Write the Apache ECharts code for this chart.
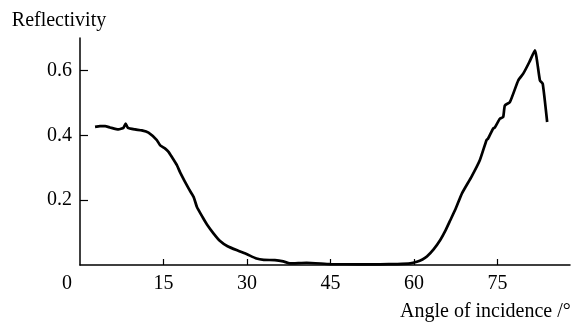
<!DOCTYPE html>
<html>
<head>
<meta charset="utf-8">
<script src="https://cdn.jsdelivr.net/npm/echarts@6/dist/echarts.min.js"></script>
<style>
  html, body { margin: 0; padding: 0; background: #fff; }
  #chart { width: 571px; height: 322px; }
</style>
</head>
<body>
<div id="chart"></div>
<script>
const angles = [
  2.7, 3.6, 4.5, 5.4, 6.9, 7.8, 8.2, 8.6, 9.9, 11.1, 12.3, 13.8, 14.4, 15.3, 15.9, 16.5,
  17.4, 18.0, 19.5, 20.4, 21.0, 22.0, 22.8, 24.0, 25.1, 26.5, 28.4, 30.0, 31.7, 33.0,
  35.0, 36.5, 37.7, 40.7, 44.9, 50.0, 53.9, 57.0, 59.3, 60.5, 61.5, 62.3, 63.5, 64.7,
  65.6, 66.5, 67.5, 68.6, 70.3, 71.8, 73.0, 73.3, 74.2, 74.5, 75.4, 76.0, 76.3, 77.2,
  78.7, 79.6, 80.7, 81.7, 82.6, 83.1, 83.9
];
const reflectivity = [
  0.426, 0.428, 0.428, 0.424, 0.418, 0.423, 0.436, 0.423, 0.418, 0.415, 0.408, 0.385, 0.369, 0.359, 0.349, 0.333,
  0.308, 0.285, 0.236, 0.21, 0.179, 0.148, 0.125, 0.097, 0.075, 0.058, 0.044, 0.033, 0.02, 0.016,
  0.015, 0.011, 0.005, 0.007, 0.003, 0.002, 0.002, 0.003, 0.005, 0.01, 0.017, 0.026, 0.048, 0.077,
  0.105, 0.138, 0.175, 0.221, 0.272, 0.323, 0.385, 0.39, 0.421, 0.424, 0.451, 0.456, 0.492, 0.502,
  0.569, 0.59, 0.626, 0.662, 0.569, 0.559, 0.441
];
const xTicks = [15, 30, 45, 60, 75];
const xLabels = [0, 15, 30, 45, 60, 75];
const yTicks = [0.2, 0.4, 0.6];

const font = "Liberation Serif";
const chart = echarts.init(document.getElementById("chart"));

chart.setOption({
  animation: false,
  grid: { left: 80, right: 1, top: 38, bottom: 57, outerBoundsMode: "none" },
  xAxis: {
    type: "value",
    min: 0,
    max: 88,
    name: "Angle of incidence /°",
    nameLocation: "middle",
    nameGap: 37,
    nameTextStyle: { fontFamily: font, fontSize: 20, color: "#000", align: "left", padding: [0, 0, 0, 75] },
    axisLine: { lineStyle: { color: "#000", width: 1.5 } },
    axisTick: { inside: true, length: 6, customValues: xTicks, lineStyle: { color: "#000", width: 1.2 } },
    axisLabel: {
      customValues: xLabels,
      margin: 9,
      fontFamily: font,
      fontSize: 20,
      color: "#000",
      formatter: (v) => (v === 0 ? "{z|0}" : String(v)),
      rich: { z: { fontFamily: font, fontSize: 20, color: "#000", padding: [0, 26, 0, 0] } }
    },
    splitLine: { show: false }
  },
  yAxis: {
    type: "value",
    min: 0,
    max: 0.7,
    name: "Reflectivity",
    nameLocation: "end",
    nameGap: 7,
    nameTextStyle: { fontFamily: font, fontSize: 20, color: "#000", padding: [0, 42, 0, 0] },
    axisLine: { show: true, lineStyle: { color: "#000", width: 1.5 } },
    axisTick: { show: true, inside: true, length: 8, customValues: yTicks, lineStyle: { color: "#000", width: 1.2 } },
    axisLabel: {
      customValues: yTicks,
      margin: 8,
      fontFamily: font,
      fontSize: 20,
      color: "#000",
      formatter: (v) => v.toFixed(1)
    },
    splitLine: { show: false }
  },
  series: [
    {
      type: "line",
      data: angles.map((a, i) => [a, reflectivity[i]]),
      showSymbol: false,
      smooth: 0.15,
      lineStyle: { color: "#000", width: 2.7 }
    }
  ]
});
</script>
</body>
</html>
